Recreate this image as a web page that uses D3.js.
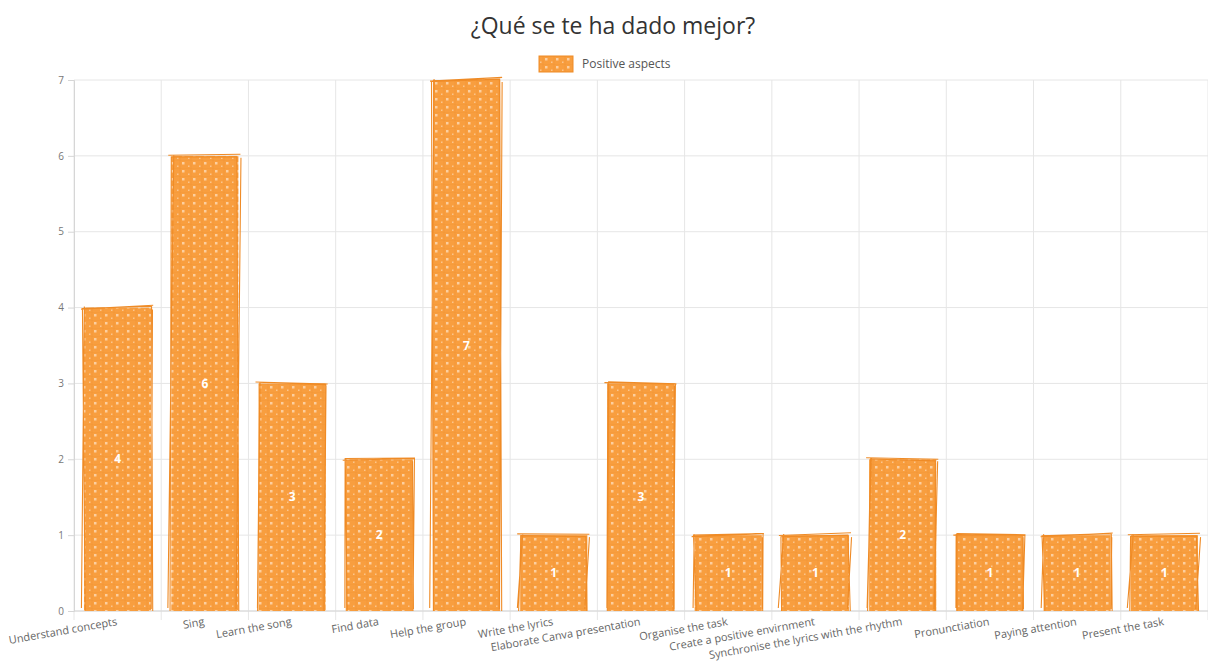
<!DOCTYPE html>
<html>
<head>
<meta charset="utf-8">
<script src="https://cdn.jsdelivr.net/npm/d3@7/dist/d3.min.js"></script>
<style>
  html, body { margin: 0; padding: 0; background: #fff; }
  svg text { font-family: "Open Sans", "DejaVu Sans", sans-serif; }
</style>
</head>
<body>
<svg id="chart" width="1208" height="670"></svg>
<script>
// Data
const categories = [
  "Understand concepts", "Sing", "Learn the song", "Find data", "Help the group",
  "Write the lyrics", "Elaborate Canva presentation", "Organise the task",
  "Create a positive envirnment", "Synchronise the lyrics with the rhythm",
  "Pronunctiation", "Paying attention", "Present the task"
];
const positiveAspects = [4, 6, 3, 2, 7, 1, 3, 1, 1, 2, 1, 1, 1];
const yTicks = [0, 1, 2, 3, 4, 5, 6, 7];
const chartTitle = "¿Qué se te ha dado mejor?";
const seriesName = "Positive aspects";

const svg = d3.select("#chart");
const margin = { top: 80, right: 0, bottom: 59, left: 74 };
const W = 1208, H = 670;
const orange = "#f89e3f";
const orangeDark = "#ef8b26";

const x = d3.scaleBand()
  .domain(categories)
  .range([margin.left, W - margin.right])
  .paddingInner(0.23)
  .paddingOuter(0.115);

const y = d3.scaleLinear()
  .domain([0, 7])
  .range([H - margin.bottom, margin.top]);

// texture used to give the bars a sketched look
const defs = svg.append("defs");
const pat = defs.append("pattern")
  .attr("id", "sketch")
  .attr("patternUnits", "userSpaceOnUse")
  .attr("width", 11).attr("height", 8);
pat.append("rect").attr("width", 11).attr("height", 8).attr("fill", orange);
pat.append("rect").attr("x", 6).attr("y", 2).attr("width", 2.5).attr("height", 2.5)
  .attr("fill", "#fff").attr("opacity", 0.5);
pat.append("rect").attr("x", 1).attr("y", 5.5).attr("width", 1.5).attr("height", 1.5)
  .attr("fill", "#fff").attr("opacity", 0.4);
pat.append("line").attr("x1", 0).attr("y1", 0).attr("x2", 11).attr("y2", 0)
  .attr("stroke", orangeDark).attr("stroke-width", 0.7).attr("opacity", 0.6);
pat.append("line").attr("x1", 4).attr("y1", 0).attr("x2", 4).attr("y2", 8)
  .attr("stroke", orangeDark).attr("stroke-width", 0.6).attr("opacity", 0.45);

// Horizontal gridlines
svg.append("g")
  .selectAll("line")
  .data(yTicks)
  .join("line")
  .attr("x1", margin.left).attr("x2", W - margin.right)
  .attr("y1", d => y(d)).attr("y2", d => y(d))
  .attr("stroke", "#e6e6e6").attr("stroke-width", 1);

// Vertical category gridlines (band boundaries)
const boundaries = d3.range(categories.length + 1).map(i => margin.left + i * ((W - margin.right - margin.left) / categories.length));
svg.append("g")
  .selectAll("line")
  .data(boundaries)
  .join("line")
  .attr("x1", d => d).attr("x2", d => d)
  .attr("y1", margin.top).attr("y2", H - margin.bottom + 9)
  .attr("stroke", "#e6e6e6").attr("stroke-width", 1);

// Y axis
const yAxis = svg.append("g")
  .attr("transform", `translate(${margin.left},0)`)
  .call(d3.axisLeft(y).tickValues(yTicks).tickSize(6).tickPadding(4).tickFormat(d3.format("d")));
yAxis.select(".domain").attr("stroke", "#d6d6d6");
yAxis.selectAll(".tick line").attr("stroke", "#d6d6d6");
yAxis.selectAll(".tick text").attr("fill", "#777").style("font-size", "10px");

// X axis baseline
svg.append("line")
  .attr("x1", margin.left).attr("x2", W - margin.right)
  .attr("y1", y(0)).attr("y2", y(0))
  .attr("stroke", "#d6d6d6");

// Bars
const bars = svg.append("g");
const rows = categories.map((c, i) => ({ c, v: positiveAspects[i], i }));

bars.selectAll("rect.bar")
  .data(rows)
  .join("rect")
  .attr("class", "bar")
  .attr("x", d => x(d.c))
  .attr("y", d => y(d.v))
  .attr("width", x.bandwidth())
  .attr("height", d => y(0) - y(d.v))
  .attr("fill", "url(#sketch)");

// sketched outline strokes (slightly wobbly, deterministic offsets)
const wob = (i, k) => Math.sin(i * 1.7 + k * 2.3) * 1.6;
bars.selectAll("path.edge")
  .data(rows)
  .join("path")
  .attr("class", "edge")
  .attr("fill", "none")
  .attr("stroke", orangeDark)
  .attr("stroke-width", 1.1)
  .attr("d", d => {
    const x0 = x(d.c), x1 = x0 + x.bandwidth();
    const yt = y(d.v), yb = y(0);
    const p = d3.path();
    p.moveTo(x0 + wob(d.i, 1), yb);
    p.lineTo(x0 + wob(d.i, 2), yt + wob(d.i, 3));
    p.lineTo(x1 + wob(d.i, 4), yt + wob(d.i, 5));
    p.lineTo(x1 + wob(d.i, 6), yb);
    p.moveTo(x0 - 2 + wob(d.i, 7), yb - 3);
    p.lineTo(x0 + 1 + wob(d.i, 8), yt - 1);
    p.moveTo(x0 - 3, yt + wob(d.i, 9));
    p.lineTo(x1 + 2, yt - 1 + wob(d.i, 10));
    p.moveTo(x1 + 1 + wob(d.i, 11), yt + 2);
    p.lineTo(x1 - 1 + wob(d.i, 12), yb - 2);
    return p.toString();
  });

// Value labels centred inside each bar
bars.selectAll("text.val")
  .data(rows)
  .join("text")
  .attr("class", "val")
  .attr("x", d => x(d.c) + x.bandwidth() / 2)
  .attr("y", d => y(d.v / 2))
  .attr("dy", "0.35em")
  .attr("text-anchor", "middle")
  .attr("fill", "#fff")
  .style("font-size", "12px")
  .style("font-weight", "bold")
  .text(d => d.v);

// Category labels, rotated
svg.append("g")
  .selectAll("text")
  .data(categories)
  .join("text")
  .attr("transform", d => `translate(${x(d) + x.bandwidth() / 2},${y(0) + 14}) rotate(-10)`)
  .attr("text-anchor", "end")
  .attr("fill", "#666")
  .style("font-size", "11px")
  .text(d => d);

// Title
svg.append("text")
  .attr("x", 613).attr("y", 34)
  .attr("text-anchor", "middle")
  .attr("fill", "#333")
  .style("font-size", "23px")
  .text(chartTitle);

// Legend
const legend = svg.append("g").attr("transform", "translate(539,56)");
legend.append("rect")
  .attr("width", 34).attr("height", 16)
  .attr("fill", "url(#sketch)")
  .attr("stroke", orangeDark).attr("stroke-width", 1);
legend.append("text")
  .attr("x", 43).attr("y", 8).attr("dy", "0.35em")
  .attr("fill", "#555")
  .style("font-size", "12px")
  .text(seriesName);
</script>
</body>
</html>
